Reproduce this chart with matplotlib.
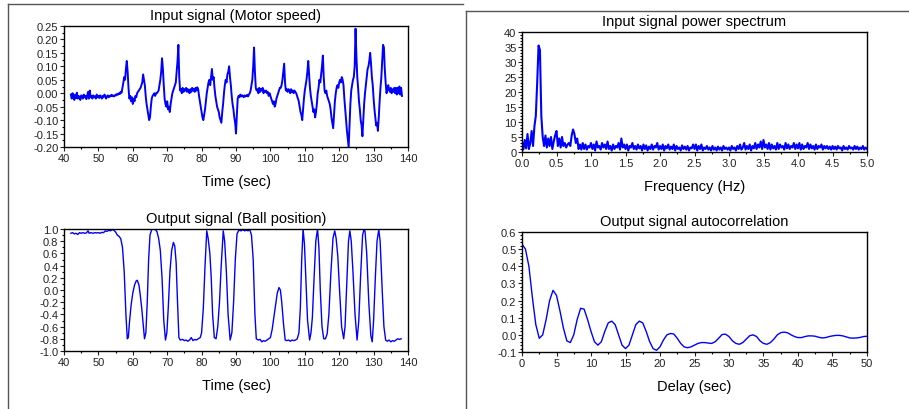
import matplotlib
matplotlib.use("Agg")
import matplotlib.pyplot as plt
import numpy as np
from matplotlib.lines import Line2D
from matplotlib.ticker import AutoMinorLocator

plt.rcParams['font.family'] = ['Liberation Sans', 'DejaVu Sans']

# input signal (motor speed), sampled every 0.25 s from 42 s
in_t0 = 42.0
in_dt = 0.25
in_y = [
    -0.005, -0.02, 0.0, -0.015, -0.025, -0.005, -0.018, 0.002, -0.02, -0.01,
    -0.015, -0.025, -0.008, -0.012, -0.02, -0.005, -0.015, -0.01, -0.022, -0.008,
    0.005, -0.02, 0.01, -0.015, -0.01, -0.02, -0.008, -0.015, -0.012, -0.02,
    -0.005, -0.015, -0.01, -0.018, -0.008, -0.012, -0.02, -0.01, -0.015, -0.005,
    -0.01, -0.02, -0.012, -0.008, -0.015, -0.01, -0.012, -0.006, -0.01, -0.008,
    -0.012, -0.01, -0.005, -0.008, -0.002, -0.005, 0.0, -0.003, 0.005, 0.002,
    0.02, 0.04, 0.06, 0.05, 0.09, 0.12, 0.08, 0.02, -0.02, -0.01,
    -0.03, -0.015, -0.04, -0.02, -0.03, -0.01, -0.015, 0.0, 0.005, 0.01,
    0.015, 0.02, 0.03, 0.04, 0.07, 0.05, 0.03, -0.01, -0.04, -0.06,
    -0.08, -0.1, -0.09, -0.05, -0.02, -0.01, -0.005, 0.0, -0.01, 0.0,
    0.0, 0.005, 0.01, 0.03, 0.05, 0.08, 0.13, 0.09, 0.03, -0.02,
    -0.04, -0.05, -0.03, -0.06, -0.05, -0.07, -0.04, -0.02, 0.0, 0.01,
    0.02, 0.03, 0.04, 0.08, 0.12, 0.18, 0.06, 0.01, 0.015, 0.0,
    0.02, 0.005, 0.015, 0.01, 0.02, 0.005, 0.015, 0.01, 0.0, 0.015,
    0.005, 0.02, 0.01, 0.015, 0.005, 0.02, 0.01, 0.022, 0.015, -0.01,
    -0.03, -0.05, -0.07, -0.09, -0.1, -0.08, -0.06, -0.03, 0.0, 0.02,
    0.04, 0.05, 0.03, 0.06, 0.09, 0.05, 0.06, 0.02, -0.01, -0.03,
    -0.05, -0.06, -0.07, -0.09, -0.1, -0.11, -0.07, -0.04, 0.0, 0.03,
    0.05, 0.04, 0.07, 0.08, 0.1, 0.06, 0.03, -0.01, -0.04, -0.06,
    -0.09, -0.11, -0.15, -0.08, -0.02, -0.01, -0.015, -0.005, -0.012, -0.008,
    -0.01, -0.015, -0.008, -0.012, -0.01, -0.006, -0.012, -0.005, 0.0, 0.01,
    0.03, 0.05, 0.1, 0.17, 0.08, 0.02, 0.01, 0.015, 0.0, 0.02,
    0.005, 0.015, 0.01, 0.02, 0.0, 0.01, 0.005, 0.01, 0.0, 0.005,
    -0.01, 0.0, -0.01, -0.02, -0.03, -0.04, -0.03, -0.05, -0.04, -0.02,
    -0.01, 0.0, 0.01, 0.02, 0.02, 0.03, 0.05, 0.08, 0.11, 0.04,
    0.01, 0.015, 0.005, 0.015, 0.01, 0.0, 0.015, 0.005, 0.01, 0.0,
    0.01, 0.005, 0.0, -0.01, -0.02, -0.03, -0.05, -0.07, -0.08, -0.1,
    -0.06, -0.02, 0.01, 0.03, 0.05, 0.08, 0.12, 0.07, 0.02, -0.01,
    -0.03, -0.05, -0.07, -0.06, -0.09, -0.07, -0.04, 0.0, 0.02, 0.05,
    0.04, 0.07, 0.1, 0.14, 0.06, 0.01, 0.0, 0.01, -0.01, -0.02,
    -0.03, -0.04, -0.06, -0.09, -0.11, -0.13, -0.08, -0.03, 0.0, 0.02,
    0.03, 0.02, 0.04, 0.05, 0.04, 0.06, 0.05, 0.03, -0.02, -0.06,
    -0.1, -0.14, -0.17, -0.2, -0.12, -0.04, 0.01, 0.03, 0.05, 0.06,
    0.1, 0.24, 0.14, 0.06, 0.02, -0.03, -0.06, -0.1, -0.12, -0.16,
    -0.1, -0.04, 0.0, 0.03, 0.06, 0.09, 0.1, 0.12, 0.15, 0.11,
    0.06, 0.03, -0.02, -0.06, -0.09, -0.12, -0.11, -0.14, -0.09, -0.03,
    0.02, 0.06, 0.12, 0.18, 0.17, 0.09, 0.04, 0.0, 0.01, 0.03,
    0.015, 0.005, 0.02, 0.0, 0.015, 0.005, 0.02, 0.0, 0.02, -0.005,
    0.02, 0.0, 0.025, -0.005, 0.02, -0.01,
]

# output signal (ball position)
out_t = [42.0, 42.5, 43.0, 43.5, 44.0, 44.5, 45.0, 45.5, 46.0, 46.5, 47.0, 47.3, 47.8,
         48.5, 49.0, 49.5, 50.0, 50.5, 51.0, 51.5, 52.0, 52.5, 53.0, 53.5, 54.0, 54.5,
         55.0, 55.5, 56.0, 56.5, 57.0, 57.5, 58.0, 58.4, 58.7, 59.0, 59.5, 60.0, 60.5,
         61.0, 61.3, 61.8, 62.2, 62.6, 63.0, 63.4, 63.8, 64.2, 64.6, 65.0, 65.5, 66.0,
         66.5, 67.0, 67.5, 68.0, 68.5, 69.0, 69.5, 69.9, 70.3, 70.8, 71.3, 71.8, 72.2,
         72.6, 73.0, 73.4, 73.8, 74.5, 75.0, 75.5, 76.0, 76.5, 77.0, 77.5, 78.0, 78.5,
         79.0, 79.6, 80.0, 80.5, 81.0, 81.5, 81.9, 82.4, 82.8, 83.2, 83.7, 84.2, 84.7,
         85.2, 85.7, 86.3, 86.7, 87.2, 87.7, 88.3, 88.8, 89.3, 89.8, 90.3, 90.8, 91.5,
         92.0, 92.5, 93.0, 93.5, 94.0, 94.5, 95.0, 95.5, 95.9, 96.5, 97.0, 97.5, 98.0,
         98.5, 99.0, 99.5, 100.0, 100.5, 101.0, 101.5, 102.0, 102.5, 102.9, 103.3, 103.8,
         104.3, 104.8, 105.3, 105.8, 106.3, 106.8, 107.3, 107.8, 108.3, 108.7, 109.1,
         109.5, 109.9, 110.3, 110.8, 111.4, 111.8, 112.2, 112.7, 113.2, 113.7, 114.1,
         114.5, 115.0, 115.5, 116.0, 116.5, 117.0, 117.6, 118.2, 118.7, 119.1, 119.6,
         120.1, 120.7, 121.3, 121.7, 122.2, 122.7, 123.1, 123.5, 124.0, 124.6, 125.2,
         125.7, 126.2, 126.8, 127.2, 127.5, 128.0, 128.6, 129.2, 129.6, 130.0, 130.5,
         131.0, 131.5, 131.9, 132.5, 133.0, 133.5, 134.0, 134.5, 135.0, 135.5, 136.0,
         136.5, 137.0, 137.5, 138.0]
out_y = [0.93, 0.94, 0.92, 0.93, 0.91, 0.94, 0.93, 0.94, 0.93, 0.935, 0.97, 0.93, 0.94,
         0.93, 0.94, 0.935, 0.94, 0.93, 0.945, 0.94, 0.97, 0.96, 0.98, 0.97, 0.99, 0.98,
         0.95, 0.9, 0.88, 0.84, 0.7, 0.3, -0.4, -0.8, -0.78, -0.55, -0.25, -0.05, 0.08,
         0.15, 0.16, 0.08, -0.1, -0.3, -0.55, -0.8, -0.7, -0.2, 0.5, 0.9, 0.99, 1.0,
         0.99, 0.96, 0.85, 0.65, 0.2, -0.5, -0.82, -0.7, -0.3, 0.3, 0.65, 0.78, 0.72,
         0.45, -0.2, -0.78, -0.82, -0.81, -0.83, -0.82, -0.84, -0.82, -0.78, -0.83, -0.81, -0.82,
         -0.8, -0.78, -0.7, -0.3, 0.4, 0.97, 0.85, 0.6, 0.2, -0.4, -0.78, -0.8, -0.6,
         -0.2, 0.4, 0.97, 0.8, 0.3, -0.4, -0.82, -0.7, -0.2, 0.5, 0.92, 0.98, 0.97,
         0.99, 0.97, 0.98, 0.97, 0.99, 0.9, 0.5, -0.4, -0.8, -0.82, -0.81, -0.85, -0.83,
         -0.84, -0.82, -0.8, -0.78, -0.65, -0.45, -0.25, -0.05, 0.04, 0.0, -0.2, -0.55,
         -0.82, -0.83, -0.82, -0.84, -0.82, -0.83, -0.82, -0.8, -0.7, -0.3, 0.5,
         1.0, 0.75, 0.2, -0.5, -0.82, -0.7, -0.45, 0.2, 0.8, 1.0, 0.7,
         0.0, -0.6, -0.8, -0.8, -0.72, -0.4, 0.3, 0.85, 0.97, 0.85, 0.55,
         0.0, -0.6, -0.8, -0.6, 0.1, 0.8, 0.97, 0.8, 0.3, -0.4, -0.82,
         -0.5, 0.2, 0.9, 0.99, 0.97, 0.6, -0.2, -0.75, -0.85, -0.5, 0.2,
         0.8, 0.99, 0.8, 0.0, -0.6, -0.82, -0.84, -0.82, -0.85, -0.83, -0.84,
         -0.82, -0.8, -0.81, -0.8]

# input power spectrum, every 0.02 Hz from 0 to 5 Hz
psd_df = 0.02
psd = [
    3.5, 0.8, 4.0, 1.2, 6.0, 1.0, 3.0, 7.0, 2.0, 8.5, 12.0, 23.0, 35.5, 34.0, 12.0, 5.0, 2.0, 5.5, 1.5, 4.5, 2.0, 5.0, 1.0, 3.5, 5.5,
    7.0, 2.0, 4.5, 1.5, 5.0, 2.0, 3.0, 1.5, 2.5, 3.0, 2.0, 5.5, 7.5, 6.0, 3.0, 4.5, 1.0, 2.5, 0.8, 3.0, 1.0, 2.5, 0.8, 2.0, 1.5,
    3.0, 1.0, 2.5, 0.5, 3.5, 1.5, 2.0, 0.8, 3.0, 1.5, 2.5, 1.0, 3.5, 1.0, 2.0, 0.5, 2.5, 1.0, 2.0, 1.5, 3.0, 0.8, 4.5, 1.5, 2.5,
    1.0, 2.5, 0.5, 2.0, 1.5, 3.0, 1.0, 2.0, 0.8, 2.5, 1.2, 2.0, 0.5, 2.5, 1.0, 2.2, 0.5, 1.8, 1.0, 2.5, 0.8, 2.0, 1.5, 3.0, 0.8,
    2.0, 1.0, 2.5, 0.5, 2.0, 1.2, 2.5, 0.8, 1.8, 1.0, 2.5, 0.5, 2.0, 1.0, 1.5, 0.5, 2.2, 1.0, 1.8, 0.8, 2.0, 0.5, 1.5, 1.2, 2.5,
    1.0, 2.5, 0.5, 2.0, 1.0, 2.5, 0.5, 1.5, 1.0, 2.0, 0.8, 1.5, 0.5, 2.0, 0.8, 1.5, 0.5, 1.8, 0.8, 1.5, 0.5, 2.0, 1.0, 1.5, 0.8,
    1.5, 0.5, 2.0, 1.0, 1.5, 0.5, 2.0, 1.0, 2.5, 0.8, 1.5, 3.0, 0.8, 2.0, 1.0, 2.5, 0.5, 2.0, 1.2, 3.0, 1.0, 2.5, 1.5, 3.5, 1.0,
    4.0, 1.5, 2.5, 1.0, 3.0, 0.8, 2.5, 1.2, 2.0, 0.8, 3.0, 1.0, 2.5, 1.5, 2.0, 0.8, 3.0, 1.2, 2.5, 1.0, 2.0, 1.5, 3.0, 1.0, 2.5,
    1.2, 3.0, 0.8, 2.5, 1.0, 2.0, 1.5, 3.0, 1.0, 2.5, 1.2, 2.0, 0.8, 2.5, 1.0, 2.0, 1.5, 2.5, 0.8, 2.0, 1.2, 2.0, 1.0, 1.8, 0.8,
    2.0, 1.0, 1.8, 0.8, 2.0, 1.2, 1.5, 0.5, 2.0, 1.0, 1.5, 0.8, 2.0, 1.2, 1.5, 0.8, 2.0, 1.0, 1.8, 0.8, 1.5, 1.0, 2.0, 0.8, 1.5, 1.0,
]

# output autocorrelation, every 0.5 s from 0 to 50 s
ac_dt = 0.5
ac = [
    0.53, 0.50, 0.40, 0.22, 0.06, -0.02, 0.00, 0.09, 0.20, 0.26,
    0.23, 0.14, 0.04, -0.035, -0.045, 0.00, 0.09, 0.155, 0.15, 0.09,
    0.02, -0.04, -0.06, -0.04, 0.02, 0.07, 0.08, 0.06, 0.00, -0.06,
    -0.08, -0.06, 0.00, 0.06, 0.08, 0.07, 0.02, -0.04, -0.08, -0.09,
    -0.07, -0.03, 0.00, 0.008, 0.005, -0.02, -0.05, -0.07, -0.075, -0.07,
    -0.06, -0.05, -0.045, -0.045, -0.048, -0.05, -0.04, -0.02, 0.002, 0.004,
    -0.01, -0.035, -0.05, -0.055, -0.045, -0.025, -0.005, 0.0, -0.01, -0.035,
    -0.05, -0.055, -0.045, -0.025, 0.0, 0.013, 0.016, 0.012, 0.0, -0.01,
    -0.016, -0.016, -0.01, -0.006, -0.006, -0.008, -0.014, -0.018, -0.016, -0.01,
    -0.006, -0.003, -0.003, -0.006, -0.012, -0.018, -0.019, -0.018, -0.015, -0.01,
    -0.008,
]

time_ticks = [40, 50, 60, 70, 80, 90, 100, 110, 120, 130, 140]
in_yticks = [-0.20, -0.15, -0.10, -0.05, 0.00, 0.05, 0.10, 0.15, 0.20, 0.25]
out_yticks = [-1.0, -0.8, -0.6, -0.4, -0.2, 0.0, 0.2, 0.4, 0.6, 0.8, 1.0]
psd_xticks = [0.0, 0.5, 1.0, 1.5, 2.0, 2.5, 3.0, 3.5, 4.0, 4.5, 5.0]
psd_yticks = [0, 5, 10, 15, 20, 25, 30, 35, 40]
ac_xticks = [0, 5, 10, 15, 20, 25, 30, 35, 40, 45, 50]
ac_yticks = [-0.1, 0.0, 0.1, 0.2, 0.3, 0.4, 0.5, 0.6]

in_t = in_t0 + in_dt * np.arange(len(in_y))
psd_f = psd_df * np.arange(len(psd))
ac_lag = ac_dt * np.arange(len(ac))

fig = plt.figure(figsize=(9.09, 4.10), dpi=100)
W, H = 909, 410


def make_axes(l, t, r, b):
    return fig.add_axes([l / W, 1 - b / H, (r - l) / W, (b - t) / H])


def style(ax, title, xlabel, xt, xfmt, yt, yfmt, ny_minor=2):
    ax.set_title(title, fontsize=10.5, pad=5)
    ax.set_xlabel(xlabel, fontsize=10.5, labelpad=8)
    ax.set_xticks(xt)
    ax.set_xticklabels([xfmt.format(v) for v in xt])
    ax.set_yticks(yt)
    ax.set_yticklabels([yfmt.format(v) for v in yt])
    ax.set_xlim(xt[0], xt[-1])
    ax.set_ylim(yt[0], yt[-1])
    ax.xaxis.set_minor_locator(AutoMinorLocator(2))
    ax.yaxis.set_minor_locator(AutoMinorLocator(ny_minor))
    ax.tick_params(which='major', direction='out', length=3, width=0.8,
                   labelsize=8, pad=1, colors='#222222')
    ax.tick_params(which='minor', direction='out', length=1.5, width=0.8)
    for s in ax.spines.values():
        s.set_linewidth(1.0)


ax1 = make_axes(64, 27, 408, 148)
ax1.plot(in_t, in_y, color='#0000ff', lw=1.4)
style(ax1, "Input signal (Motor speed)", "Time (sec)", time_ticks, "{:d}",
      in_yticks, "{:.2f}")

ax2 = make_axes(64, 230, 408, 352)
ax2.plot(out_t, out_y, color='#0000ff', lw=1.0)
style(ax2, "Output signal (Ball position)", "Time (sec)", time_ticks, "{:d}",
      out_yticks, "{:.1f}")

ax3 = make_axes(522, 33, 867, 153)
ax3.plot(psd_f, psd, color='#0000ff', lw=1.5)
style(ax3, "Input signal power spectrum", "Frequency (Hz)", psd_xticks, "{:.1f}",
      psd_yticks, "{:d}", ny_minor=5)

ax4 = make_axes(522, 233, 867, 353)
ax4.plot(ac_lag, ac, color='#0000ff', lw=1.0)
style(ax4, "Output signal autocorrelation", "Delay (sec)", ac_xticks, "{:d}",
      ac_yticks, "{:.1f}", ny_minor=5)

# window frames around the two halves
frame = dict(color='#555555', lw=1.0, transform=fig.transFigure)
fig.add_artist(Line2D([8 / W, 8 / W], [0, 1 - 5 / H], **frame))
fig.add_artist(Line2D([8 / W, 463 / W], [1 - 5 / H, 1 - 5 / H], **frame))
fig.add_artist(Line2D([466 / W, 466 / W], [0, 1 - 12 / H], **frame))
fig.add_artist(Line2D([466 / W, 1], [1 - 12 / H, 1 - 12 / H], **frame))

fig.savefig("out.png", dpi=100)
